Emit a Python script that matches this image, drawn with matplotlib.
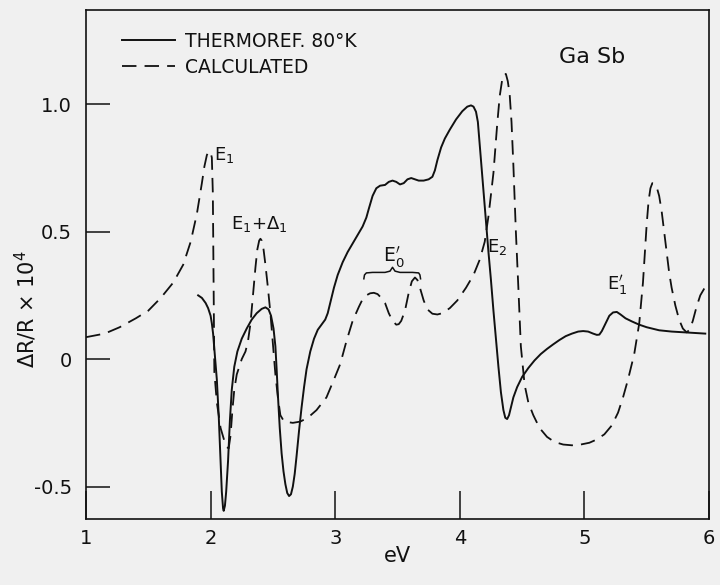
import matplotlib
matplotlib.use("Agg")
import matplotlib.pyplot as plt

plt.rcParams['font.family'] = ['DejaVu Sans']
plt.rcParams['mathtext.fontset'] = 'dejavusans'

# ---- data ----
thermo_x = [1.90, 1.93, 1.96, 1.98, 2.00, 2.01, 2.02, 2.035, 2.05, 2.065, 2.08, 2.09, 2.10, 2.105,
            2.115, 2.125, 2.14, 2.155, 2.17, 2.19, 2.215, 2.25, 2.29, 2.33, 2.37, 2.41, 2.44,
            2.465, 2.485, 2.505, 2.52, 2.53, 2.54, 2.555, 2.57, 2.585, 2.60, 2.615, 2.63, 2.645,
            2.66, 2.675, 2.69, 2.71, 2.73, 2.75, 2.77, 2.80, 2.83, 2.86, 2.89, 2.92, 2.94,
            2.96, 2.99, 3.02, 3.06, 3.10, 3.16, 3.22, 3.25, 3.27, 3.30, 3.33, 3.36, 3.40, 3.43,
            3.46, 3.49, 3.52, 3.55, 3.58, 3.61, 3.64, 3.67, 3.71, 3.75, 3.78, 3.80, 3.82, 3.85,
            3.88, 3.92, 3.97, 4.02, 4.06, 4.09, 4.11, 4.13, 4.145, 4.155, 4.17, 4.19, 4.21,
            4.23, 4.25, 4.27, 4.29, 4.31, 4.33, 4.35, 4.365, 4.38, 4.395, 4.41, 4.43, 4.46,
            4.50, 4.55, 4.60, 4.65, 4.70, 4.75, 4.80, 4.85, 4.90, 4.95, 4.99, 5.03, 5.07, 5.10,
            5.12, 5.14, 5.17, 5.20, 5.23, 5.26, 5.29, 5.33, 5.38, 5.44, 5.50, 5.60, 5.70, 5.80,
            5.97]
thermo_y = [0.25, 0.24, 0.22, 0.20, 0.17, 0.14, 0.10, 0.01, -0.08, -0.22, -0.40, -0.52, -0.585, -0.595,
            -0.575, -0.52, -0.40, -0.24, -0.12, -0.03, 0.03, 0.08, 0.12, 0.155, 0.18, 0.197, 0.203,
            0.195, 0.17, 0.12, 0.05, -0.04, -0.14, -0.27, -0.37, -0.44, -0.49, -0.525, -0.537, -0.53,
            -0.50, -0.45, -0.38, -0.28, -0.19, -0.11, -0.04, 0.03, 0.08, 0.115, 0.135, 0.155, 0.18,
            0.22, 0.28, 0.33, 0.38, 0.42, 0.47, 0.52, 0.555, 0.59, 0.64, 0.67, 0.68, 0.683, 0.695,
            0.70, 0.695, 0.685, 0.69, 0.705, 0.71, 0.705, 0.70, 0.70, 0.705, 0.715, 0.74, 0.78, 0.83,
            0.865, 0.90, 0.94, 0.972, 0.99, 0.995, 0.99, 0.97, 0.93, 0.87, 0.78, 0.66, 0.54,
            0.42, 0.31, 0.19, 0.08, -0.03, -0.13, -0.20, -0.23, -0.235, -0.22, -0.19, -0.15, -0.11,
            -0.07, -0.035, -0.005, 0.02, 0.04, 0.058, 0.075, 0.09, 0.10, 0.108, 0.11, 0.108, 0.10, 0.095,
            0.096, 0.11, 0.14, 0.17, 0.183, 0.185, 0.175, 0.16, 0.148, 0.135, 0.125, 0.113, 0.108, 0.105,
            0.10]

calc_x = [1.00, 1.15, 1.27, 1.40, 1.50, 1.60, 1.70, 1.78, 1.84, 1.89, 1.93, 1.95, 1.97, 1.985,
          2.00, 2.01, 2.018, 2.022, 2.026, 2.03, 2.05, 2.08, 2.11, 2.13, 2.145, 2.16, 2.175, 2.19,
          2.21, 2.25, 2.28, 2.30, 2.32, 2.34, 2.36, 2.375, 2.39, 2.40, 2.41, 2.425, 2.44, 2.46,
          2.48, 2.50, 2.52, 2.54, 2.56, 2.59, 2.66, 2.72, 2.78, 2.85, 2.93, 2.99, 3.04, 3.09,
          3.14, 3.19, 3.22, 3.25, 3.28, 3.31, 3.34, 3.37, 3.40, 3.43, 3.46, 3.49, 3.51, 3.53,
          3.56, 3.59, 3.615, 3.64, 3.66, 3.68, 3.71, 3.74, 3.78, 3.82, 3.86, 3.92, 3.98, 4.05,
          4.11, 4.16, 4.20, 4.23, 4.27, 4.30, 4.32, 4.34, 4.355, 4.37, 4.385, 4.40, 4.415, 4.43,
          4.45, 4.47, 4.49, 4.52, 4.55, 4.59, 4.64, 4.70, 4.76, 4.83, 4.90, 4.97, 5.04, 5.10,
          5.16, 5.22, 5.27, 5.31, 5.35, 5.40, 5.44, 5.47, 5.50, 5.515, 5.53, 5.545, 5.56, 5.58,
          5.60, 5.62, 5.64, 5.66, 5.68, 5.70, 5.73, 5.76, 5.79, 5.82, 5.845, 5.87, 5.90, 5.93,
          5.96, 5.99]
calc_y = [0.086, 0.10, 0.125, 0.16, 0.19, 0.24, 0.30, 0.37, 0.46, 0.57, 0.69, 0.755, 0.80, 0.815,
          0.81, 0.79, 0.65, 0.40, 0.10, -0.05, -0.17, -0.27, -0.32, -0.345, -0.35, -0.30, -0.20, -0.12,
          -0.06, 0.00, 0.03, 0.07, 0.14, 0.25, 0.36, 0.43, 0.465, 0.472, 0.465, 0.43, 0.37, 0.28,
          0.18, 0.06, -0.06, -0.15, -0.22, -0.245, -0.25, -0.245, -0.23, -0.20, -0.15, -0.08, -0.02, 0.07,
          0.15, 0.205, 0.235, 0.25, 0.258, 0.26, 0.255, 0.24, 0.22, 0.18, 0.15, 0.135, 0.137, 0.15,
          0.19, 0.26, 0.305, 0.32, 0.31, 0.28, 0.23, 0.195, 0.178, 0.175, 0.18, 0.20, 0.23, 0.28,
          0.33, 0.39, 0.46, 0.56, 0.73, 0.92, 1.03, 1.095, 1.118, 1.118, 1.09, 1.04, 0.93, 0.76,
          0.50, 0.28, 0.05, -0.10, -0.17, -0.22, -0.27, -0.305, -0.325, -0.335, -0.338, -0.335, -0.328, -0.315,
          -0.295, -0.26, -0.21, -0.15, -0.08, 0.02, 0.14, 0.30, 0.53, 0.62, 0.67, 0.69, 0.688, 0.675,
          0.64, 0.58, 0.50, 0.42, 0.34, 0.28, 0.21, 0.155, 0.12, 0.105, 0.115, 0.15, 0.205, 0.25,
          0.275, 0.285]

x_ticks = [1, 2, 3, 4, 5, 6]
x_ticklabels = ['1', '2', '3', '4', '5', '6']
y_ticks = [-0.5, 0, 0.5, 1.0]
y_ticklabels = ['-0.5', '0', '0.5', '1.0']

bg = '#f0f0f0'
ink = '#111111'

fig = plt.figure(figsize=(7.2, 5.85), dpi=100, facecolor=bg)
ax = fig.add_axes([86/720, 1-519/585, 623/720, 509/585], facecolor=bg)

ax.plot(thermo_x, thermo_y, color=ink, lw=1.4, label='THERMOREF. 80°K')
ax.plot(calc_x, calc_y, color=ink, lw=1.3, dashes=(8, 4.5), label='CALCULATED')

ax.set_xlim(1, 6)
ax.set_ylim(-0.627, 1.369)
ax.set_xticks(x_ticks)
ax.set_xticklabels(x_ticklabels)
ax.set_yticks(y_ticks)
ax.set_yticklabels(y_ticklabels)
ax.tick_params(axis='x', direction='in', length=20, width=1.1, pad=7, labelsize=14, colors=ink)
ax.tick_params(axis='y', direction='in', length=17, width=1.1, pad=10, labelsize=14, colors=ink)
for s in ax.spines.values():
    s.set_linewidth(1.2)
    s.set_color(ink)

ax.set_xlabel('eV', fontsize=15, color=ink, labelpad=-1)
fig.text(26/720, 1-309/585, r'$\Delta$R/R $\times$ 10$^{4}$', rotation=90,
         ha='center', va='center', fontsize=15, color=ink)

leg = ax.legend(loc='upper left', bbox_to_anchor=((122-86)/623, (519-32)/509),
                frameon=False, fontsize=13.5, handlelength=2.8, handletextpad=0.55,
                labelspacing=0.35, borderpad=0, borderaxespad=0)
for t in leg.get_texts():
    t.set_color(ink)

ax.text(0.812, (519-57)/509, 'Ga Sb', transform=ax.transAxes, fontsize=16,
        ha='center', va='center', color=ink)

# peak labels
ax.text(2.03, 0.80, r'E$_1$', fontsize=13, color=ink, ha='left', va='center')
ax.text(2.16, 0.53, r'E$_1$+$\Delta_1$', fontsize=13, color=ink, ha='left', va='center')
ax.text(3.47, 0.40, r"E$_0'$", fontsize=13.5, color=ink, ha='center', va='center')
ax.text(4.22, 0.44, r'E$_2$', fontsize=13, color=ink, ha='left', va='center')
ax.text(5.18, 0.29, r"E$_1'$", fontsize=13, color=ink, ha='left', va='center')

# curly brace under E0'
brace_x = [3.23, 3.235, 3.25, 3.30, 3.40, 3.44, 3.46, 3.48, 3.52, 3.62, 3.67, 3.68, 3.685]
brace_y = [0.315, 0.33, 0.338, 0.340, 0.340, 0.345, 0.36, 0.345, 0.340, 0.340, 0.338, 0.33, 0.315]
ax.plot(brace_x, brace_y, color=ink, lw=1.1)

fig.savefig('out.png', dpi=100, facecolor=bg)
